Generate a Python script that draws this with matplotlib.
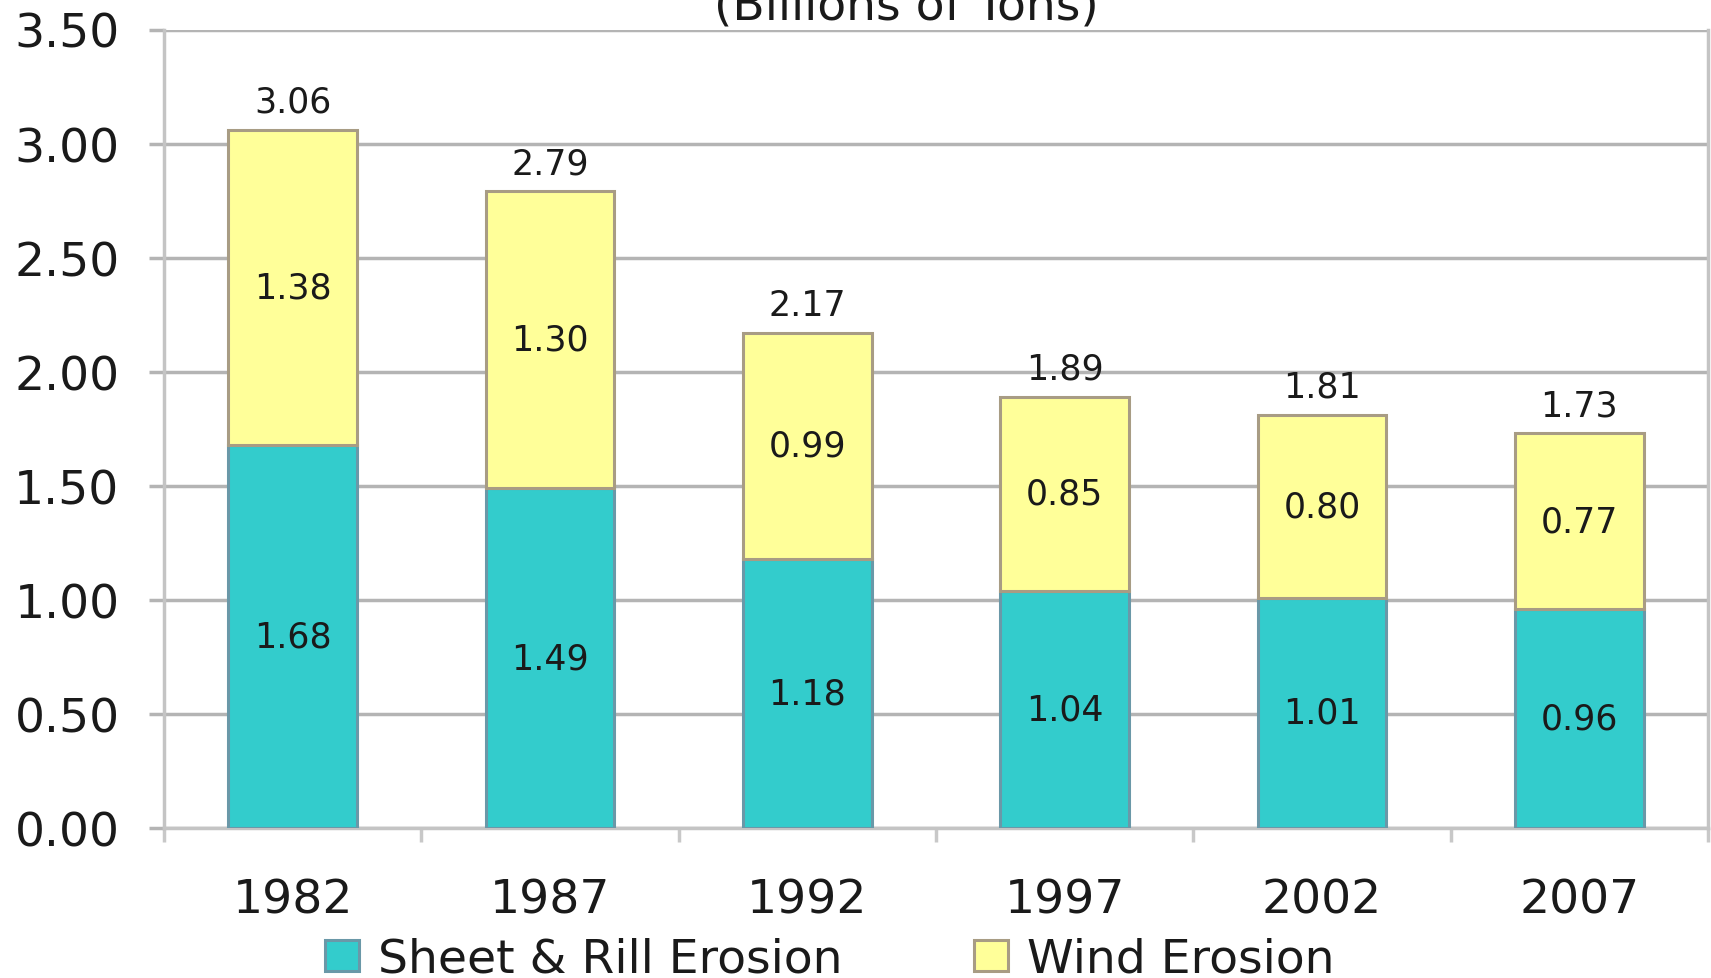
import matplotlib
matplotlib.use("Agg")
import matplotlib.pyplot as plt
import numpy as np

plt.rcParams['font.family'] = ['DejaVu Sans']

years = ["1982", "1987", "1992", "1997", "2002", "2007"]
sheet_rill = [1.68, 1.49, 1.18, 1.04, 1.01, 0.96]
wind = [1.38, 1.30, 0.99, 0.85, 0.80, 0.77]
totals = [3.06, 2.79, 2.17, 1.89, 1.81, 1.73]
yticks = [0.0, 0.5, 1.0, 1.5, 2.0, 2.5, 3.0, 3.5]

cyan = "#33CCCC"
yellow = "#FFFF99"
grid_grey = "#B4B4B4"
text_col = "#1A1A1A"

fig = plt.figure(figsize=(17.11, 9.79), dpi=100)
ax = fig.add_axes([164 / 1711, 1 - 829 / 979, (1708 - 164) / 1711, (829 - 30.5) / 979])

x = np.arange(len(years))
w = 0.5
b1 = ax.bar(x, sheet_rill, width=w, color=cyan, edgecolor="#6A98A8", linewidth=2.2,
            label="Sheet & Rill Erosion", zorder=3)
b2 = ax.bar(x, wind, width=w, bottom=sheet_rill, color=yellow, edgecolor="#A89C84",
            linewidth=2.2, label="Wind Erosion", zorder=3)

label_size = 25
for i in range(len(years)):
    ax.text(x[i], sheet_rill[i] / 2, f"{sheet_rill[i]:.2f}", ha="center", va="center",
            fontsize=label_size, color=text_col, zorder=4)
    ax.text(x[i], sheet_rill[i] + wind[i] / 2, f"{wind[i]:.2f}", ha="center", va="center",
            fontsize=label_size, color=text_col, zorder=4)
    ax.annotate(f"{totals[i]:.2f}", (x[i], totals[i]), xytext=(0, 8),
                textcoords="offset points", ha="center", va="bottom",
                fontsize=label_size, color=text_col, zorder=4)

ax.set_xlim(-0.5, len(years) - 0.5)
ax.set_ylim(0, 3.5)
ax.set_yticks(yticks)
ax.set_yticklabels([f"{v:.2f}" for v in yticks], fontsize=34, color=text_col)
ax.yaxis.grid(True, color=grid_grey, linewidth=2.5, zorder=0)
ax.set_axisbelow(True)

# category labels centred, tick marks on category boundaries
ax.set_xticks(x)
ax.set_xticklabels(years, fontsize=34, color=text_col)
ax.tick_params(axis="x", length=0, pad=36)
ax.set_xticks(np.arange(-0.5, len(years), 1.0), minor=True)
ax.tick_params(axis="x", which="minor", length=10, width=2.5, color="#C8C8C8")
ax.tick_params(axis="y", length=11, width=2.5, color=grid_grey, pad=21)

for side in ["left", "bottom", "right"]:
    ax.spines[side].set_color("#C4C4C4")
    ax.spines[side].set_linewidth(2.5)
ax.spines["top"].set_visible(False)

fig.text(906 / 1711, 1 - 19 / 979, "(Billions of Tons)", ha="center", va="baseline",
         fontsize=34, color=text_col)

fig.legend(handles=[b1, b2], loc="center", bbox_to_anchor=(0.485, 0.019), ncol=2,
           frameon=False, fontsize=34, handlelength=0.72, handleheight=0.65,
           handletextpad=0.39, columnspacing=2.8, labelcolor=text_col,
           borderpad=0.1)

fig.savefig("out.png", dpi=100)
